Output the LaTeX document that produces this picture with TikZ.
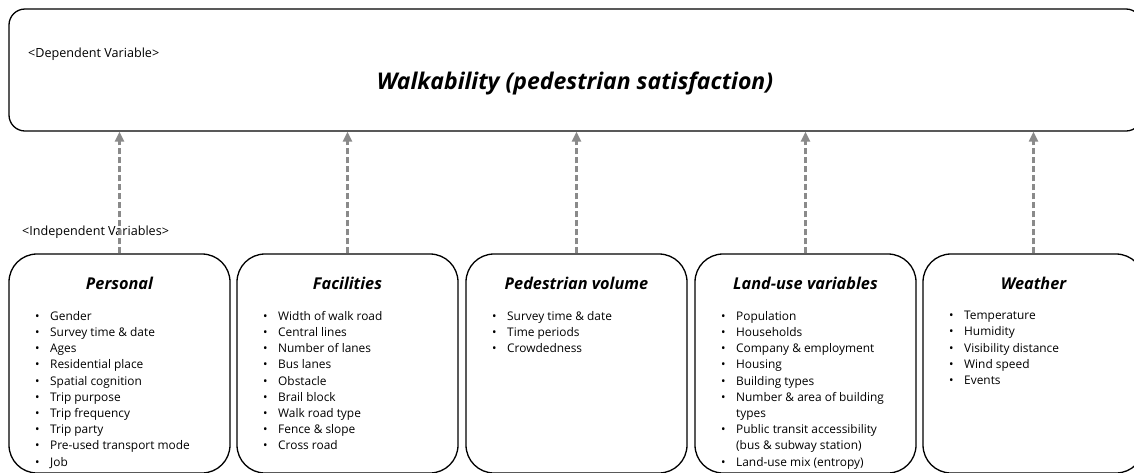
\documentclass[tikz,border=0pt]{standalone}
\usepackage{fontspec}
\setmainfont{Open Sans}
\usetikzlibrary{arrows.meta}
\newcommand\bl[1]{\makebox[15pt][l]{\textbullet}#1}
\newcommand\cl[1]{\hspace*{15pt}#1}
\definecolor{arrowgray}{HTML}{8A8A8A}
\begin{document}
\begin{tikzpicture}[x=1pt,y=-1pt,
  depbox/.style={draw, line width=1.3pt, rounded corners=16pt, minimum width=1133pt, minimum height=122pt, inner sep=0pt},
  indbox/.style={draw, line width=1.3pt, rounded corners=28pt, minimum width=221pt, minimum height=219pt, inner sep=0pt},
  boxtitle/.style={font=\fontsize{16.3}{18}\selectfont\bfseries\itshape, inner sep=0pt},
  itemlist/.style={font=\fontsize{11.9}{16.2}\selectfont, align=left, anchor=north west, inner sep=0pt},
  smalllabel/.style={font=\fontsize{12.6}{14}\selectfont, anchor=west, inner sep=0pt},
  deparrow/.style={draw=arrowgray, line width=2.2pt, dash pattern=on 6pt off 3pt, -{Triangle[length=10pt,width=9pt,fill=arrowgray]}}
]
\useasboundingbox (0,0) rectangle (1134,472);
\fill[white] (0,0) rectangle (1134,472);

\node[depbox] (dep) at (575.5,70) {};
\node[smalllabel] (deplabel) at (28,54) {<Dependent Variable>};
\node[font=\fontsize{23}{25}\selectfont\bfseries\itshape, inner sep=0pt] (title) at (575,83) {Walkability (pedestrian satisfaction)};

\node[smalllabel] (indlabel) at (22,232) {<Independent Variables>};

\node[indbox] (pers) at (119.5,363.5) {};
\node[indbox] (fac) at (347.5,363.5) {};
\node[indbox] (ped) at (576.5,363.5) {};
\node[indbox] (land) at (805.5,363.5) {};
\node[indbox] (wea) at (1033.5,363.5) {};

\node[boxtitle] (perst) at (119.5,283) {Personal};
\node[boxtitle] (fact) at (347.5,283) {Facilities};
\node[boxtitle] (pedt) at (576.5,283) {Pedestrian volume};
\node[boxtitle] (landt) at (805.5,283) {Land-use variables};
\node[boxtitle] (weat) at (1033.5,283) {Weather};

\node[itemlist] (persl) at (35,311) {\bl{Gender}\\ \bl{Survey time \& date}\\ \bl{Ages}\\ \bl{Residential place}\\ \bl{Spatial cognition}\\ \bl{Trip purpose}\\ \bl{Trip frequency}\\ \bl{Trip party}\\ \bl{Pre-used transport  mode}\\ \bl{Job}};
\node[itemlist] (facl) at (263,311) {\bl{Width of walk road}\\ \bl{Central lines}\\ \bl{Number of lanes}\\ \bl{Bus lanes}\\ \bl{Obstacle}\\ \bl{Brail block}\\ \bl{Walk road type}\\ \bl{Fence \& slope}\\ \bl{Cross road}};
\node[itemlist] (pedl) at (492,311) {\bl{Survey time \& date}\\ \bl{Time periods}\\ \bl{Crowdedness}};
\node[itemlist] (landl) at (721,311) {\bl{Population}\\ \bl{Households}\\ \bl{Company \& employment}\\ \bl{Housing}\\ \bl{Building types}\\ \bl{Number \& area of building}\\ \cl{types}\\ \bl{Public transit accessibility}\\ \cl{(bus \& subway station)}\\ \bl{Land-use mix (entropy)}};
\node[itemlist] (weal) at (949,311) {\bl{Temperature}\\ \bl{Humidity}\\ \bl{Visibility distance}\\ \bl{Wind speed}\\ \bl{Events}};

\foreach \b in {pers,fac,ped,land,wea}
  \draw[deparrow] (\b.north) -- (\b.north |- dep.south);
\end{tikzpicture}
\end{document}
